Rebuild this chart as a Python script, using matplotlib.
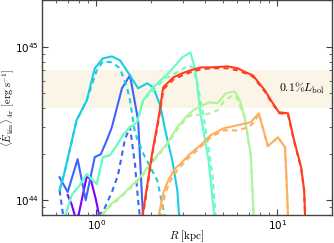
import numpy as np
import matplotlib
matplotlib.use("Agg")
import matplotlib.pyplot as plt

plt.rcParams['mathtext.fontset'] = 'cm'
plt.rcParams['font.family'] = 'DejaVu Sans'

# radius [kpc] and kinetic power [1e44 erg/s], one pair per snapshot (solid / dashed)
r_purple = [0.695, 0.731, 0.77, 0.80, 0.886, 0.932, 0.994, 1.046]
e_purple = [1.08, 0.94, 0.76, 0.81, 1.43, 1.37, 1.015, 0.76]

r_blue = [0.627, 0.695, 0.789, 0.874, 0.981, 1.059, 1.144, 1.219, 1.386, 1.535, 1.701, 1.813]
e_blue = [1.41, 1.13, 1.85, 1.0, 1.91, 1.99, 2.46, 2.99, 5.36, 6.51, 3.32, 0.76]
r_blue_d = [0.627, 0.66, 0.95, 0.97, 1.006, 1.087, 1.219, 1.317, 1.44, 1.535, 1.636, 1.701, 1.745]
e_blue_d = [1.16, 0.76, 0.76, 0.81, 0.80, 0.835, 1.13, 1.45, 2.5, 2.99, 1.7, 1.0, 0.76]

r_cyan = [0.627, 0.668, 0.779, 0.886, 0.981, 1.087, 1.219, 1.351, 1.496, 1.701, 1.908,
          2.06, 2.253, 2.402, 2.627, 2.801, 2.873]
e_cyan = [1.16, 1.52, 3.32, 4.47, 7.23, 8.39, 8.65, 8.15, 6.81, 5.36, 5.77,
          5.44, 4.15, 2.85, 1.82, 1.16, 0.76]
r_cyan_d = [0.627, 0.668, 0.779, 0.886, 1.006, 1.087, 1.219, 1.351, 1.477, 1.535, 1.636,
            1.813, 2.168, 2.402]
e_cyan_d = [1.16, 1.52, 3.32, 4.47, 7.01, 8.02, 7.91, 7.23, 5.44, 4.47, 2.73,
            2.02, 1.35, 0.76]

r_aqua = [0.668, 0.731, 0.81, 0.886, 1.006, 1.087, 1.189, 1.30, 1.404, 1.535, 1.679,
          1.813, 2.06, 2.496, 2.985, 3.308, 3.526, 3.758, 4.163, 4.497]
e_aqua = [0.76, 1.08, 1.25, 1.48, 1.27, 1.91, 1.96, 2.28, 2.65, 2.99, 3.22,
          4.47, 5.44, 6.71, 8.52, 9.18, 7.01, 3.68, 1.82, 0.76]
r_aqua_d = [0.668, 0.731, 0.81, 0.886, 1.006, 1.087, 1.189, 1.30, 1.404, 1.535, 1.679,
            1.813, 2.06, 2.402, 2.801, 3.224, 3.394, 3.617, 3.955, 4.383, 4.554]
e_aqua_d = [0.76, 1.08, 1.25, 1.48, 1.27, 1.91, 1.96, 2.28, 2.65, 2.99, 3.22,
            4.47, 5.2, 6.22, 6.81, 7.55, 7.33, 5.77, 3.22, 1.45, 0.76]

r_lgreen = [1.072, 1.189, 1.351, 1.477, 1.745, 2.06, 2.465, 2.801, 3.183, 3.438, 3.758,
            4.217, 4.672, 5.176, 5.808, 6.192, 6.598, 7.125, 7.404]
e_lgreen = [0.80, 0.928, 1.05, 1.16, 1.41, 1.82, 2.35, 2.99, 3.57, 3.85, 4.09,
            4.34, 4.28, 4.97, 5.12, 4.47, 3.47, 1.96, 0.76]
r_lgreen_d = [1.072, 1.189, 1.351, 1.477, 1.745, 2.06, 2.465, 2.801, 3.183, 3.438, 3.857,
              4.217, 4.672, 5.11, 5.661, 5.96, 6.598, 7.125, 7.404]
e_lgreen_d = [0.79, 0.91, 1.03, 1.14, 1.38, 1.78, 2.3, 2.9, 3.47, 3.63, 3.57,
              3.68, 3.85, 4.47, 4.82, 4.66, 3.42, 1.93, 0.76]

r_orange = [2.196, 2.341, 2.496, 2.73, 2.985, 3.224, 3.758, 4.272, 5.045, 6.035, 7.125,
            7.893, 8.855, 10.06, 11.01, 11.29, 11.44]
e_orange = [0.76, 1.11, 1.35, 1.61, 1.77, 1.96, 2.28, 2.65, 2.94, 3.08, 3.22,
            3.68, 2.25, 2.57, 2.21, 1.16, 0.76]
r_orange_d = [2.253, 2.402, 2.561, 2.801, 3.224, 3.758, 4.272, 5.045, 6.035, 6.945, 7.596,
              7.893, 8.855, 10.06, 11.01, 11.29, 11.44]
e_orange_d = [0.76, 1.11, 1.33, 1.57, 1.88, 2.21, 2.57, 2.85, 2.85, 2.99, 3.32,
              3.68, 2.25, 2.57, 2.21, 1.16, 0.76]

r_red = [1.79, 2.034, 2.196, 2.341, 2.661, 2.985, 3.308, 3.758, 4.272, 5.309, 6.035,
         6.683, 7.31, 8.523, 9.203, 10.19, 11.44, 12.35, 13.51, 14.04, 14.22]
e_red = [0.76, 2.02, 3.32, 5.44, 6.31, 6.71, 7.01, 7.33, 7.33, 7.44, 7.23,
         6.81, 6.51, 5.2, 4.47, 3.74, 3.68, 2.46, 1.64, 1.16, 0.76]
r_red_d = [1.80, 2.04, 2.20, 2.35, 2.661, 2.985, 3.308, 3.758, 4.272, 5.309, 6.035,
           6.683, 7.31, 8.523, 9.203, 10.19, 11.44, 12.35, 13.51, 14.04, 14.22]
e_red_d = [0.76, 2.0, 3.25, 5.3, 6.1, 6.51, 6.81, 7.12, 7.23, 7.23, 7.01,
           6.7, 6.4, 5.1, 4.4, 3.7, 3.6, 2.42, 1.62, 1.15, 0.76]

band_lo, band_hi = 4.0, 7.0   # 0.1% L_bol range [1e44 erg/s]

fig = plt.figure(figsize=(3.34, 2.43), dpi=100)
ax = fig.add_axes([0.125, 0.115, 0.869, 0.883])

ax.axhspan(band_lo * 1e44, band_hi * 1e44, color='wheat', alpha=0.3, lw=0, zorder=0)

cmap = plt.get_cmap('rainbow')
lw = 1.5
ax.plot(r_purple, np.array(e_purple) * 1e44, color=cmap(0.0), lw=lw)
ax.plot(r_blue, np.array(e_blue) * 1e44, color=cmap(0.13), lw=lw)
ax.plot(r_blue_d, np.array(e_blue_d) * 1e44, color=cmap(0.13), lw=lw, ls='--', dashes=(2.5, 2))
ax.plot(r_cyan, np.array(e_cyan) * 1e44, color=cmap(0.3), lw=lw)
ax.plot(r_cyan_d, np.array(e_cyan_d) * 1e44, color=cmap(0.3), lw=lw, ls='--', dashes=(2.5, 2))
ax.plot(r_aqua, np.array(e_aqua) * 1e44, color=cmap(0.45), lw=lw)
ax.plot(r_aqua_d, np.array(e_aqua_d) * 1e44, color=cmap(0.45), lw=lw, ls='--', dashes=(2.5, 2))
ax.plot(r_lgreen, np.array(e_lgreen) * 1e44, color=cmap(0.59), lw=lw)
ax.plot(r_lgreen_d, np.array(e_lgreen_d) * 1e44, color=cmap(0.59), lw=lw, ls='--', dashes=(2.5, 2))
ax.plot(r_orange, np.array(e_orange) * 1e44, color=cmap(0.76), lw=lw)
ax.plot(r_orange_d, np.array(e_orange_d) * 1e44, color=cmap(0.76), lw=lw, ls='--', dashes=(2.5, 2))
ax.plot(r_red, np.array(e_red) * 1e44, color=cmap(0.92), lw=lw)
ax.plot(r_red_d, np.array(e_red_d) * 1e44, color=cmap(0.92), lw=lw, ls='--', dashes=(2.5, 2))

ax.text(0.975, 0.59, r'$0.1\%L_{\rm bol}$', transform=ax.transAxes,
        ha='right', va='center', fontsize=8.5)

ax.set_xscale('log')
ax.set_yscale('log')
ax.set_xlim(0.5, 20)
ax.set_ylim(8e43, 2e45)

ax.set_xlabel(r'$R\ [\rm kpc]$', fontsize=8)
ax.set_ylabel(r'$\langle \dot{E}_{\rm kin} \rangle_{4\pi}\ [\rm erg\ s^{-1}]$', fontsize=7.5)
ax.xaxis.set_label_coords(0.5, -0.062)
ax.yaxis.set_label_coords(-0.09, 0.5)

for s in ax.spines.values():
    s.set_color('#444444')
    s.set_linewidth(1.0)
ax.tick_params(which='both', direction='in', top=True, right=True, colors='#444444',
               labelcolor='black', labelsize=7.5, pad=2)
ax.tick_params(which='major', length=4, width=0.8)
ax.tick_params(which='minor', length=2, width=0.6)

fig.savefig('out.png', dpi=100)
